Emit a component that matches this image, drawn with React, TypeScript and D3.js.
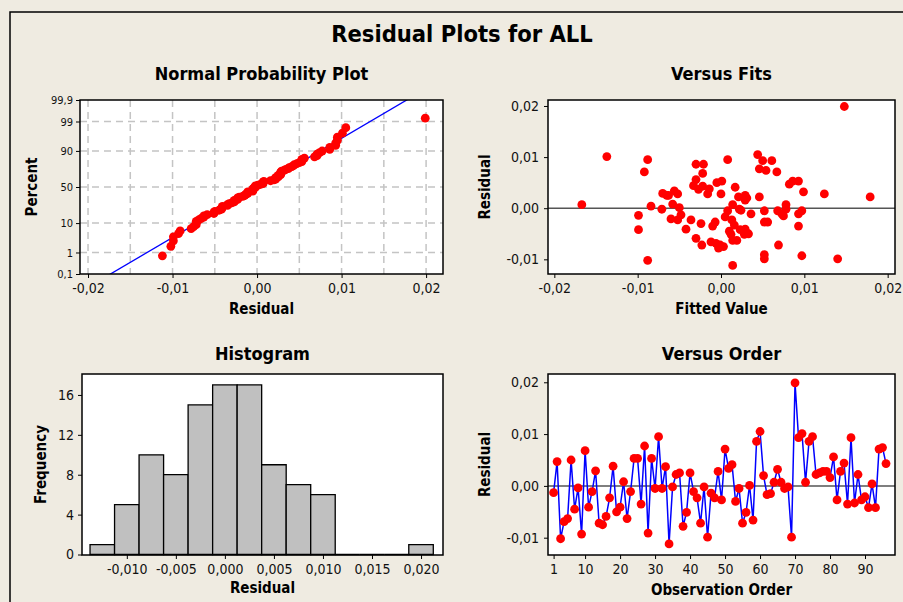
import { useEffect, useRef } from "react";
import * as d3 from "d3";

// residuals in observation order
const residuals = [
  -0.0013, 0.0047, -0.0102, -0.0069, -0.0063, 0.005, -0.0045, -0.0004, -0.0093, 0.0068,
  -0.0041, -0.0011, 0.0029, -0.0072, -0.0075, -0.0059, -0.0023, 0.0038, -0.005, -0.0041,
  0.0008, -0.0063, -0.0011, 0.0053, 0.0053, -0.0035, 0.0077, -0.0091, 0.0053, -0.0005,
  0.0095, -0.0005, 0.0037, -0.0112, -0.0002, 0.0022, 0.0025, -0.0078, -0.0051, 0.0025,
  -0.0011, -0.0023, -0.0072, -0.0002, -0.0099, -0.0014, -0.0023, 0.0028, -0.0027, 0.0071,
  0.0034, 0.0041, -0.003, -0.0005, -0.0072, -0.0051, 0.0001, -0.0066, 0.0086, 0.0105,
  0.002, -0.0017, -0.0015, 0.0007, 0.0032, 0.0007, -0.0005, -0.0002, -0.0099, 0.0199,
  0.0093, 0.0101, 0.0007, 0.0086, 0.0095, 0.0022, 0.0025, 0.0028, 0.0028, 0.0016,
  0.0056, -0.0027, 0.0028, 0.0044, -0.0035, 0.0093, -0.0033, 0.0022, -0.0027, -0.0021,
  -0.0042, 0.0004, -0.0042, 0.0071, 0.0074, 0.0043,
];

// fitted values, same order
const fitted = [
  -0.0048, 0.0082, -0.0088, -0.0006, 0.0014, -0.0005, 0.001, 0.0024, 0.0097, -0.0022,
  0.0029, 0.0036, -0.007, -0.0001, 0.0003, -0.003, -0.0036, -0.0014, 0.0033, -0.0042,
  -0.0058, 0.0019, 0.0073, 0.0001, 0.0086, -0.001, 0.0046, 0.0052, 0.0093, 0.0052,
  0.0008, 0.0097, -0.0027, 0.0014, -0.0071, 0.0021, 0.0029, -0.0003, 0.0012, -0.0065,
  0.0093, 0.0013, 0.0069, 0.0078, 0.014, -0.0099, -0.0052, -0.0016, 0.0052, 0.0067,
  -0.0056, 0.0017, -0.0024, 0.0068, -0.0023, 0.0028, -0.005, -0.0012, -0.003, 0.0044,
  0.0031, 0.0005, 0.0075, -0.0167, 0.0099, 0.0078, 0.0008, 0.0022, 0.0052, 0.0148,
  0.005, -0.0137, 0.0014, -0.0021, -0.0088, 0.0046, -0.0063, 0.0, 0.0124, 0.0029,
  -0.003, 0.0056, -0.0052, -0.0033, 0.0093, 0.0061, 0.0016, 0.0179, -0.0007, -0.006,
  -0.0099, -0.0084, 0.0023, -0.0092, 0.0054, -0.0022,
];

const binMids = [-0.0125, -0.01, -0.0075, -0.005, -0.0025, 0, 0.0025, 0.005, 0.0075, 0.01, 0.0125, 0.015, 0.0175, 0.02];
const binCounts = [1, 5, 10, 8, 15, 17, 17, 9, 7, 6, 0, 0, 0, 1];

const probTicks = [0.1, 1, 10, 50, 90, 99, 99.9];
const probGrid = [1, 10, 50, 90, 99];
const resTicks = [-0.02, -0.01, 0, 0.01, 0.02];
const resGrid = [-0.02, -0.015, -0.01, -0.005, 0, 0.005, 0.01, 0.015, 0.02];
const histXTicks = [-0.01, -0.005, 0, 0.005, 0.01, 0.015, 0.02];
const histYTicks = [0, 4, 8, 12, 16];
const vsResTicks = [-0.01, 0, 0.01, 0.02];
const orderTicks = [1, 10, 20, 30, 40, 50, 60, 70, 80, 90];

const FONT = "'DejaVu Sans Condensed', 'DejaVu Sans', sans-serif";
const BG = "#efebe1";

// inverse normal cdf (Acklam)
function probit(p: number) {
  const a = [-39.69683028665376, 220.9460984245205, -275.9285104469687, 138.357751867269, -30.66479806614716, 2.506628277459239];
  const b = [-54.47609879822406, 161.5858368580409, -155.6989798598866, 66.80131188771972, -13.28068155288572];
  const c = [-0.007784894002430293, -0.3223964580411365, -2.400758277161838, -2.549732539343734, 4.374664141464968, 2.938163982698783];
  const d = [0.007784695709041462, 0.3224671290700398, 2.445134137142996, 3.754408661907416];
  const pl = 0.02425;
  if (p < pl) {
    const q = Math.sqrt(-2 * Math.log(p));
    return (((((c[0] * q + c[1]) * q + c[2]) * q + c[3]) * q + c[4]) * q + c[5]) / ((((d[0] * q + d[1]) * q + d[2]) * q + d[3]) * q + 1);
  }
  if (p > 1 - pl) {
    const q = Math.sqrt(-2 * Math.log(1 - p));
    return -(((((c[0] * q + c[1]) * q + c[2]) * q + c[3]) * q + c[4]) * q + c[5]) / ((((d[0] * q + d[1]) * q + d[2]) * q + d[3]) * q + 1);
  }
  const q = p - 0.5;
  const r = q * q;
  return (((((a[0] * r + a[1]) * r + a[2]) * r + a[3]) * r + a[4]) * r + a[5]) * q / (((((b[0] * r + b[1]) * r + b[2]) * r + b[3]) * r + b[4]) * r + 1);
}

const loc = d3.formatLocale({ decimal: ",", thousands: ".", grouping: [3], currency: ["", ""], minus: "-" });
const f2 = loc.format(".2f");
const f3 = loc.format(".3f");

export default function App() {
  const ref = useRef<SVGSVGElement>(null);

  useEffect(() => {
    if (!ref.current) return;
    const svg = d3.select(ref.current);
    svg.selectAll("*").remove();
    const W = 903, H = 602;

    svg.append("rect").attr("width", W).attr("height", H).attr("fill", BG);
    svg.append("rect").attr("x", 10).attr("y", 12).attr("width", W).attr("height", H)
      .attr("fill", "none").attr("stroke", "#000").attr("stroke-width", 1.5);

    svg.append("text").attr("x", 462).attr("y", 34).attr("dy", "0.35em")
      .attr("text-anchor", "middle").style("font-family", FONT).style("font-weight", "bold")
      .style("font-size", "23.5px").text("Residual Plots for ALL");

    const box = (l: number, t: number, r: number, b: number) => {
      svg.append("rect").attr("x", l).attr("y", t).attr("width", r - l).attr("height", b - t).attr("fill", "#fff");
    };
    const border = (l: number, t: number, r: number, b: number) => {
      svg.append("rect").attr("x", l).attr("y", t).attr("width", r - l).attr("height", b - t)
        .attr("fill", "none").attr("stroke", "#000").attr("stroke-width", 1.5);
    };
    const title = (x: number, y: number, s: string) =>
      svg.append("text").attr("x", x).attr("y", y).attr("dy", "0.35em").attr("text-anchor", "middle")
        .style("font-family", FONT).style("font-weight", "bold").style("font-size", "18px").text(s);
    const xlabel = (x: number, y: number, s: string) =>
      svg.append("text").attr("x", x).attr("y", y).attr("dy", "0.35em").attr("text-anchor", "middle")
        .style("font-family", FONT).style("font-weight", "bold").style("font-size", "15px").text(s);
    const ylabel = (x: number, y: number, s: string) =>
      svg.append("text").attr("transform", `translate(${x},${y}) rotate(-90)`).attr("dy", "0.35em")
        .attr("text-anchor", "middle").style("font-family", FONT).style("font-weight", "bold")
        .style("font-size", "15px").text(s);
    const styleAxis = (g: any, size: number) => {
      g.select(".domain").remove();
      g.selectAll(".tick line").attr("stroke", "#000").attr("stroke-width", 1);
      g.selectAll(".tick text").style("font-family", FONT).style("font-size", size + "px").attr("fill", "#111");
    };
    const dot = "#ff0000";
    const rad = 4.4;

    // ---- Normal probability plot ----
    const np = { l: 80, t: 100, r: 443, b: 274 };
    box(np.l, np.t, np.r, np.b);
    const npX = d3.scaleLinear().domain([-0.02095, 0.022]).range([np.l, np.r]);
    const zMax = probit(0.999);
    const npY = d3.scaleLinear().domain([-zMax, zMax]).range([np.b, np.t]);
    const grid = svg.append("g").attr("stroke", "#c4c4c4").attr("stroke-width", 1.5).attr("stroke-dasharray", "7,5");
    resGrid.forEach((v) => grid.append("line").attr("x1", npX(v)).attr("x2", npX(v)).attr("y1", np.t).attr("y2", np.b));
    probGrid.forEach((p) => grid.append("line").attr("x1", np.l).attr("x2", np.r).attr("y1", npY(probit(p / 100))).attr("y2", npY(probit(p / 100))));

    svg.append("clipPath").attr("id", "npclip").append("rect")
      .attr("x", np.l).attr("y", np.t).attr("width", np.r - np.l).attr("height", np.b - np.t);
    const mu = d3.mean(residuals)!;
    const sd = d3.deviation(residuals)!;
    svg.append("line").attr("clip-path", "url(#npclip)")
      .attr("x1", npX(mu - sd * 3.3)).attr("y1", npY(-3.3))
      .attr("x2", npX(mu + sd * 3.3)).attr("y2", npY(3.3))
      .attr("stroke", "#0000ff").attr("stroke-width", 1.3);
    const sorted = residuals.slice().sort(d3.ascending);
    const n = sorted.length;
    svg.append("g").selectAll("circle").data(sorted).enter().append("circle")
      .attr("cx", (d) => npX(d)).attr("cy", (_, i) => npY(probit((i + 1 - 0.3) / (n + 0.4))))
      .attr("r", rad).attr("fill", dot);

    const npxa = svg.append("g").attr("transform", `translate(0,${np.b})`)
      .call(d3.axisBottom(npX).tickValues(resTicks).tickFormat((d: any) => f2(d)).tickSize(4).tickPadding(5));
    styleAxis(npxa, 14);
    const npya = svg.append("g").attr("transform", `translate(${np.l},0)`)
      .call(d3.axisLeft(npY).tickValues(probTicks.map((p) => probit(p / 100)))
        .tickFormat((_: any, i: number) => String(probTicks[i]).replace(".", ",")).tickSize(4).tickPadding(3));
    styleAxis(npya, 11);
    border(np.l, np.t, np.r, np.b);
    title((np.l + np.r) / 2, 74, "Normal Probability Plot");
    xlabel((np.l + np.r) / 2, 309, "Residual");
    ylabel(32, (np.t + np.b) / 2, "Percent");

    // ---- Versus fits ----
    const vf = { l: 548, t: 100, r: 895, b: 274 };
    box(vf.l, vf.t, vf.r, vf.b);
    const vfX = d3.scaleLinear().domain([-0.02076, 0.02088]).range([vf.l, vf.r]);
    const vfY = d3.scaleLinear().domain([-0.01287, 0.02117]).range([vf.b, vf.t]);
    svg.append("line").attr("x1", vf.l).attr("x2", vf.r).attr("y1", vfY(0)).attr("y2", vfY(0))
      .attr("stroke", "#555").attr("stroke-width", 1.5);
    svg.append("g").selectAll("circle").data(residuals).enter().append("circle")
      .attr("cx", (_, i) => vfX(fitted[i])).attr("cy", (d) => vfY(d)).attr("r", rad).attr("fill", dot);
    const vfxa = svg.append("g").attr("transform", `translate(0,${vf.b})`)
      .call(d3.axisBottom(vfX).tickValues(resTicks).tickFormat((d: any) => f2(d)).tickSize(4).tickPadding(5));
    styleAxis(vfxa, 14);
    const vfya = svg.append("g").attr("transform", `translate(${vf.l},0)`)
      .call(d3.axisLeft(vfY).tickValues(vsResTicks).tickFormat((d: any) => f2(d)).tickSize(4).tickPadding(5));
    styleAxis(vfya, 14);
    border(vf.l, vf.t, vf.r, vf.b);
    title((vf.l + vf.r) / 2, 74, "Versus Fits");
    xlabel((vf.l + vf.r) / 2, 309, "Fitted Value");
    ylabel(485, (vf.t + vf.b) / 2, "Residual");

    // ---- Histogram ----
    const hi = { l: 82, t: 374, r: 443, b: 555 };
    box(hi.l, hi.t, hi.r, hi.b);
    const hiX = d3.scaleLinear().domain([-0.01457, 0.02224]).range([hi.l, hi.r]);
    const hiY = d3.scaleLinear().domain([-0.05, 18.1]).range([hi.b, hi.t]);
    const half = 0.00125;
    svg.append("g").selectAll("path").data(binCounts).enter().append("path")
      .attr("d", (d, i) => {
        const x0 = hiX(binMids[i] - half), x1 = hiX(binMids[i] + half);
        const y0 = hiY(0), y1 = hiY(d);
        return `M${x0},${y0}V${y1}H${x1}V${y0}Z`;
      })
      .attr("fill", "#c0c0c0").attr("stroke", "#000").attr("stroke-width", 1.3);
    const hixa = svg.append("g").attr("transform", `translate(0,${hi.b})`)
      .call(d3.axisBottom(hiX).tickValues(histXTicks).tickFormat((d: any) => f3(d)).tickSize(4).tickPadding(5));
    styleAxis(hixa, 14);
    const hiya = svg.append("g").attr("transform", `translate(${hi.l},0)`)
      .call(d3.axisLeft(hiY).tickValues(histYTicks).tickFormat((d: any) => String(d)).tickSize(4).tickPadding(4));
    styleAxis(hiya, 14);
    border(hi.l, hi.t, hi.r, hi.b);
    title((hi.l + hi.r) / 2, 354, "Histogram");
    xlabel((hi.l + hi.r) / 2, 588, "Residual");
    ylabel(41, (hi.t + hi.b) / 2, "Frequency");

    // ---- Versus order ----
    const vo = { l: 548, t: 374, r: 895, b: 555 };
    box(vo.l, vo.t, vo.r, vo.b);
    const voX = d3.scaleLinear().domain([-0.6, 98.57]).range([vo.l, vo.r]);
    const voY = d3.scaleLinear().domain([-0.01334, 0.0216]).range([vo.b, vo.t]);
    svg.append("line").attr("x1", vo.l).attr("x2", vo.r).attr("y1", voY(0)).attr("y2", voY(0))
      .attr("stroke", "#555").attr("stroke-width", 1.5);
    const ln = d3.line<number>().x((_, i) => voX(i + 1)).y((d) => voY(d));
    svg.append("path").datum(residuals).attr("d", ln).attr("fill", "none")
      .attr("stroke", "#0000ff").attr("stroke-width", 1.5);
    svg.append("g").selectAll("circle").data(residuals).enter().append("circle")
      .attr("cx", (_, i) => voX(i + 1)).attr("cy", (d) => voY(d)).attr("r", rad).attr("fill", dot);
    const voxa = svg.append("g").attr("transform", `translate(0,${vo.b})`)
      .call(d3.axisBottom(voX).tickValues(orderTicks).tickFormat((d: any) => String(d)).tickSize(4).tickPadding(5));
    styleAxis(voxa, 14);
    const voya = svg.append("g").attr("transform", `translate(${vo.l},0)`)
      .call(d3.axisLeft(voY).tickValues(vsResTicks).tickFormat((d: any) => f2(d)).tickSize(4).tickPadding(5));
    styleAxis(voya, 14);
    border(vo.l, vo.t, vo.r, vo.b);
    title((vo.l + vo.r) / 2, 354, "Versus Order");
    xlabel((vo.l + vo.r) / 2, 590, "Observation Order");
    ylabel(485, (vo.t + vo.b) / 2, "Residual");
  }, []);

  return (
    <svg ref={ref} width={903} height={602}
      style={{ position: "absolute", left: 0, top: 0, display: "block" }} />
  );
}
